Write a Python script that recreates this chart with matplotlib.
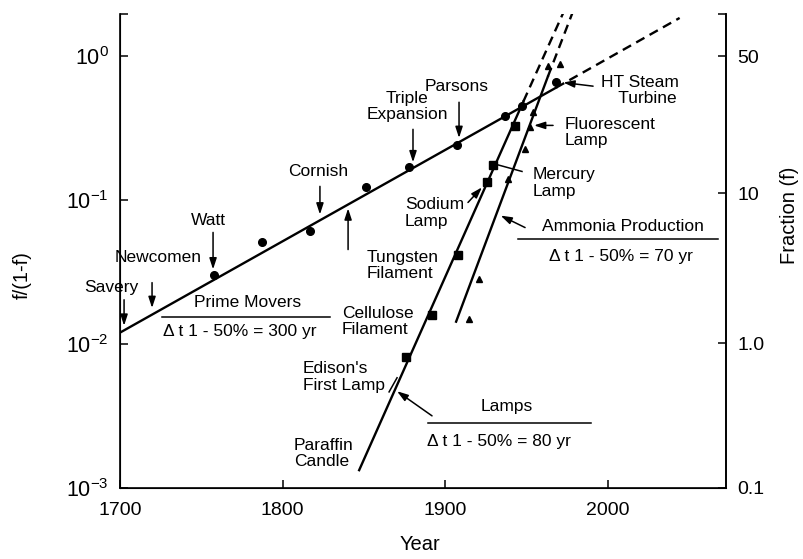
import matplotlib
matplotlib.use("Agg")
import matplotlib.pyplot as plt
import numpy as np

plt.rcParams['font.family'] = ['Liberation Sans', 'DejaVu Sans']
plt.rcParams['mathtext.fontset'] = 'custom'
plt.rcParams['mathtext.rm'] = 'Liberation Sans'
plt.rcParams['mathtext.default'] = 'regular'

# ---------------- data ----------------
# Prime movers (circles)
prime_years = [1757.8, 1787.3, 1816.8, 1851.2, 1877.7, 1907.2, 1936.7, 1947.0, 1968.0]
prime_vals = [0.030, 0.0515, 0.0614, 0.124, 0.171, 0.240, 0.382, 0.448, 0.658]
prime_fit_years = [1700, 1968]
prime_fit_vals = [0.0120, 0.603]
prime_ext_years = [1968, 2044]
prime_ext_vals = [0.603, 1.84]

# Lamps (squares)
lamp_years = [1875.8, 1891.8, 1907.8, 1925.6, 1929.3, 1942.8]
lamp_vals = [0.00817, 0.0160, 0.0418, 0.1345, 0.174, 0.325]
lamp_fit_years = [1847, 1948]
lamp_fit_vals = [0.00133, 0.485]
lamp_ext_years = [1948, 1973]
lamp_ext_vals = [0.485, 2.06]

# Ammonia production (triangles)
ammonia_years = [1914.5, 1920.7, 1938.5, 1949.0, 1952.0, 1954.0, 1963.1, 1970.5]
ammonia_vals = [0.0150, 0.0284, 0.139, 0.225, 0.32, 0.41, 0.851, 0.879]
ammonia_fit_years = [1906.6, 1963.0]
ammonia_fit_vals = [0.0143, 0.72]
ammonia_ext_years = [1963.0, 1978.5]
ammonia_ext_vals = [0.72, 2.05]

# axes
x_ticks = [1700, 1800, 1900, 2000]
y_ticks = [1e-3, 1e-2, 1e-1, 1e0]
y_tick_labels = [r'$10^{-3}$', r'$10^{-2}$', r'$10^{-1}$', r'$10^{0}$']
frac_pct = [50, 10, 1.0, 0.1]
frac_labels = ['50', '10', '1.0', '0.1']
x_lim = (1700, 2072.5)
y_lim = (1e-3, 1.96)

# ---------------- figure ----------------
W, H = 804, 559
fig = plt.figure(figsize=(W / 100, H / 100), dpi=100)
ax = fig.add_axes([120 / W, 1 - 488 / H, (726 - 120) / W, (488 - 14) / H])
ax.set_yscale('log')
ax.set_xlim(*x_lim)
ax.set_ylim(*y_lim)

lw = 1.7
dash = (0, (4, 2.5))
ax.plot(prime_fit_years, prime_fit_vals, color='black', lw=lw)
ax.plot(prime_ext_years, prime_ext_vals, color='black', lw=lw, ls=dash)
ax.plot(lamp_fit_years, lamp_fit_vals, color='black', lw=lw)
ax.plot(lamp_ext_years, lamp_ext_vals, color='black', lw=lw, ls=dash)
ax.plot(ammonia_fit_years, ammonia_fit_vals, color='black', lw=lw)
ax.plot(ammonia_ext_years, ammonia_ext_vals, color='black', lw=lw, ls=dash)

ax.plot(prime_years, prime_vals, 'o', color='black', ms=5.5, ls='none')
ax.plot(lamp_years, lamp_vals, 's', color='black', ms=6, ls='none')
ax.plot(ammonia_years, ammonia_vals, '^', color='black', ms=4.5, ls='none')

# spines / ticks
ax.spines['top'].set_visible(False)
for s in ['left', 'right', 'bottom']:
    ax.spines[s].set_linewidth(1.2)
ax.set_xticks(x_ticks)
ax.set_xticklabels([str(v) for v in x_ticks], fontsize=14)
ax.set_yticks(y_ticks + [y_lim[1]])
ax.set_yticklabels(y_tick_labels + [''], fontsize=15.5)
ax.yaxis.set_minor_locator(matplotlib.ticker.NullLocator())
ax.tick_params(axis='both', direction='in', length=6, width=1.1, pad=8)
ax.tick_params(axis='x', pad=10)

ax2 = ax.twinx()
ax2.set_yscale('log')
ax2.set_ylim(*y_lim)
ax2.spines['top'].set_visible(False)
ax2.spines['right'].set_linewidth(1.2)
frac_pos = [(p / 100) / (1 - p / 100) for p in frac_pct]
ax2.set_yticks(frac_pos + [y_lim[1]])
ax2.set_yticklabels(frac_labels + [''], fontsize=14)
ax2.yaxis.set_minor_locator(matplotlib.ticker.NullLocator())
ax2.tick_params(axis='y', direction='in', length=6, width=1.1, pad=8)

fig.text(22 / W, 1 - 275 / H, 'f/(1-f)', rotation=90, ha='center', va='center', fontsize=14.5)
fig.text(790 / W, 1 - 215 / H, 'Fraction (f)', rotation=90, ha='center', va='center', fontsize=14.5)
fig.text(420 / W, 1 - 545 / H, 'Year', ha='center', va='center', fontsize=14.5)

# ---------------- annotations ----------------
fs = 12.5
ap = dict(arrowstyle='-|>,head_length=0.55,head_width=0.18', color='black', lw=1.1,
          shrinkA=0, shrinkB=0, mutation_scale=12)


def arrow(tail, tip):
    ax.annotate('', xy=tip, xytext=tail, arrowprops=ap)


def leader(p0, p1):
    ax.plot([p0[0], p1[0]], [p0[1], p1[1]], color='black', lw=1.1)


ax.text(1694.5, 0.0247, 'Savery', ha='center', va='center', fontsize=fs)
arrow((1702.5, 0.0203), (1702.5, 0.0134))
ax.text(1723.4, 0.0399, 'Newcomen', ha='center', va='center', fontsize=fs)
arrow((1719.7, 0.0267), (1719.7, 0.0178))
ax.text(1754.1, 0.0721, 'Watt', ha='center', va='center', fontsize=fs)
arrow((1757.2, 0.0596), (1757.2, 0.0330))
ax.text(1821.7, 0.158, 'Cornish', ha='center', va='center', fontsize=fs)
arrow((1822.9, 0.1245), (1822.9, 0.0794))
arrow((1840.2, 0.0453), (1840.2, 0.0875))
ax.text(1876.4, 0.448, 'Triple\nExpansion', ha='center', va='center', fontsize=fs, linespacing=1.05)
arrow((1880.1, 0.31), (1880.1, 0.183))
ax.text(1907.2, 0.618, 'Parsons', ha='center', va='center', fontsize=fs)
arrow((1908.4, 0.478), (1908.4, 0.270))
ax.text(2019.7, 0.579, 'HT Steam\n   Turbine', ha='center', va='center', fontsize=fs, linespacing=1.05)
arrow((1990.8, 0.618), (1972.5, 0.655))

ax.text(1973.6, 0.293, 'Fluorescent\nLamp', ha='left', va='center', fontsize=fs, linespacing=1.1)
arrow((1966.2, 0.330), (1954.5, 0.330))
ax.text(1953.9, 0.1315, 'Mercury\nLamp', ha='left', va='center', fontsize=fs, linespacing=1.1)
leader((1947.1, 0.158), (1931.1, 0.177))
ax.text(1875.2, 0.0813, 'Sodium\nLamp', ha='left', va='center', fontsize=fs, linespacing=1.1)
arrow((1913.9, 0.0962), (1922.5, 0.1225))
ax.text(1851.8, 0.0351, 'Tungsten\nFilament', ha='left', va='center', fontsize=fs, linespacing=1.1)
ax.text(1836.5, 0.0143, 'Cellulose\nFilament', ha='left', va='center', fontsize=fs, linespacing=1.1)
ax.text(1812.5, 0.00591, "Edison's\nFirst Lamp", ha='left', va='center', fontsize=fs, linespacing=1.1)
leader((1865.4, 0.00465), (1870.3, 0.00583))
ax.text(1807.0, 0.00174, 'Paraffin\nCandle', ha='left', va='center', fontsize=fs, linespacing=1.1)

# group summaries
ax.text(1778.7, 0.01937, 'Prime Movers', ha='center', va='center', fontsize=fs)
leader((1725.8, 0.01549), (1829.1, 0.01549))
ax.text(1773.8, 0.0122, 'Δ t 1 - 50% = 300 yr', ha='center', va='center', fontsize=fs)

ax.text(1937.9, 0.00366, 'Lamps', ha='center', va='center', fontsize=fs)
leader((1889.3, 0.00283), (1989.5, 0.00283))
ax.text(1888.7, 0.00209, 'Δ t 1 - 50% = 80 yr', ha='left', va='center', fontsize=fs)
arrow((1891.8, 0.00317), (1870.3, 0.00470))

ax.text(2009.2, 0.0655, 'Ammonia Production', ha='center', va='center', fontsize=fs)
leader((1944.7, 0.054), (2067.6, 0.054))
ax.text(2008.0, 0.0406, 'Δ t 1 - 50% = 70 yr', ha='center', va='center', fontsize=fs)
arrow((1949.0, 0.0644), (1934.0, 0.0780))

fig.savefig('out.png', dpi=100)
